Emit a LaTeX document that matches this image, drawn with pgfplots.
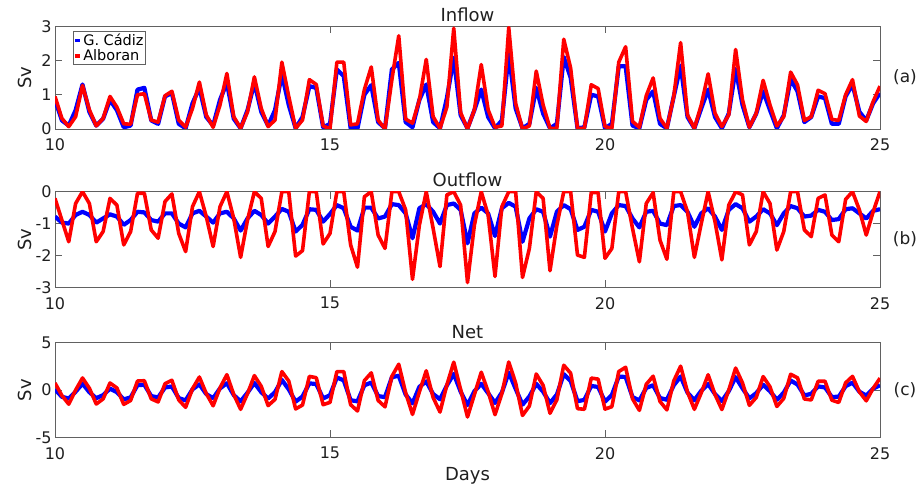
\documentclass[border=0pt]{standalone}
\usepackage{fontspec}
\setmainfont{DejaVu Sans}
\usepackage{pgfplots}
\usepackage{pgfplotstable}
\pgfplotsset{compat=1.18}
\pgfplotstableread{
t rin bin rout bout rnet bnet
10.000 0.95 0.85 -0.21 -0.78 0.74 0.07
10.125 0.31 0.25 -0.89 -0.97 -0.58 -0.72
10.250 0.07 0.10 -1.57 -1.00 -1.50 -0.90
10.375 0.36 0.55 -0.37 -0.73 -0.01 -0.18
10.500 1.27 1.30 0.00 -0.63 1.27 0.67
10.625 0.56 0.50 -0.37 -0.73 0.19 -0.23
10.750 0.09 0.10 -1.57 -0.97 -1.48 -0.87
10.875 0.31 0.30 -1.25 -0.84 -0.94 -0.54
11.000 0.95 0.85 -0.21 -0.71 0.74 0.14
11.125 0.64 0.55 -0.42 -0.78 0.22 -0.23
11.250 0.15 0.05 -1.67 -1.04 -1.52 -0.99
11.375 0.14 0.10 -1.25 -0.89 -1.11 -0.79
11.500 1.00 1.15 -0.05 -0.63 0.95 0.52
11.625 1.03 1.20 -0.05 -0.65 0.98 0.55
11.750 0.26 0.25 -1.20 -0.89 -0.94 -0.64
11.875 0.20 0.15 -1.46 -0.94 -1.26 -0.79
12.000 0.97 0.95 -0.31 -0.68 0.66 0.27
12.125 1.10 1.05 -0.07 -0.68 1.03 0.37
12.250 0.26 0.15 -1.31 -1.00 -1.05 -0.85
12.375 0.05 0.02 -1.88 -1.12 -1.83 -1.10
12.500 0.60 0.75 -0.47 -0.68 0.13 0.07
12.625 1.37 1.20 0.00 -0.60 1.37 0.60
12.750 0.41 0.35 -0.78 -0.78 -0.37 -0.43
12.875 0.05 0.10 -1.72 -0.97 -1.67 -0.87
13.000 0.70 0.85 -0.47 -0.68 0.23 0.17
13.125 1.62 1.35 0.00 -0.63 1.62 0.72
13.250 0.36 0.30 -0.84 -0.84 -0.48 -0.54
13.375 0.02 0.02 -2.06 -1.22 -2.04 -1.20
13.500 0.50 0.55 -0.89 -0.84 -0.39 -0.29
13.625 1.52 1.35 0.00 -0.60 1.52 0.75
13.750 0.60 0.50 -0.21 -0.73 0.39 -0.23
13.875 0.07 0.10 -1.72 -1.00 -1.65 -0.90
14.000 0.26 0.55 -1.25 -0.78 -0.99 -0.23
14.125 1.95 1.60 0.00 -0.54 1.95 1.06
14.250 0.95 0.70 0.00 -0.63 0.95 0.07
14.375 0.02 0.02 -2.02 -1.25 -2.00 -1.23
14.500 0.26 0.35 -1.85 -1.04 -1.59 -0.69
14.625 1.44 1.25 0.00 -0.55 1.44 0.70
14.750 1.30 1.20 0.00 -0.57 1.30 0.63
14.875 0.09 0.05 -1.64 -0.94 -1.55 -0.89
15.000 0.00 0.15 -1.31 -0.70 -1.31 -0.55
15.125 1.95 1.74 0.00 -0.42 1.95 1.32
15.250 1.95 1.54 0.00 -0.52 1.95 1.02
15.375 0.12 0.02 -1.67 -1.10 -1.55 -1.08
15.500 0.15 0.02 -2.37 -1.22 -2.22 -1.20
15.625 1.15 1.00 -0.16 -0.50 0.99 0.50
15.750 1.81 1.28 0.00 -0.50 1.81 0.78
15.875 0.26 0.20 -1.36 -0.84 -1.10 -0.64
16.000 0.00 0.02 -1.78 -0.78 -1.78 -0.76
16.125 1.44 1.74 0.00 -0.39 1.44 1.35
16.250 2.72 1.93 0.00 -0.42 2.72 1.51
16.375 0.29 0.20 -0.57 -0.68 -0.28 -0.48
16.500 0.17 0.05 -2.75 -1.46 -2.58 -1.41
16.625 0.85 0.85 -1.05 -0.52 -0.20 0.33
16.750 2.03 1.30 0.00 -0.39 2.03 0.91
16.875 0.36 0.20 -1.15 -0.63 -0.79 -0.43
17.000 0.02 0.02 -2.35 -1.00 -2.33 -0.98
17.125 0.64 0.90 -0.10 -0.42 0.54 0.48
17.250 2.94 2.08 0.00 -0.37 2.94 1.71
17.375 0.48 0.40 -0.42 -0.57 0.06 -0.17
17.500 0.00 0.02 -2.85 -1.62 -2.85 -1.60
17.625 0.56 0.55 -1.05 -0.68 -0.49 -0.13
17.750 1.88 1.15 0.00 -0.50 1.88 0.65
17.875 0.56 0.35 -0.73 -0.68 -0.17 -0.33
18.000 0.05 0.02 -2.66 -1.39 -2.61 -1.37
18.125 0.09 0.25 -0.47 -0.52 -0.38 -0.27
18.250 2.96 2.20 0.00 -0.35 2.96 1.85
18.375 0.75 0.60 0.00 -0.47 0.75 0.13
18.500 0.00 0.02 -2.69 -1.57 -2.69 -1.55
18.625 0.09 0.15 -1.78 -0.84 -1.69 -0.69
18.750 1.69 1.20 0.00 -0.55 1.69 0.65
18.875 0.70 0.45 -0.21 -0.63 0.49 -0.18
19.000 0.02 0.02 -2.48 -1.41 -2.46 -1.39
19.125 0.02 0.15 -1.05 -0.63 -1.03 -0.48
19.250 2.62 2.10 0.00 -0.42 2.62 1.68
19.375 1.78 1.50 0.00 -0.55 1.78 0.95
19.500 0.02 0.02 -1.99 -1.20 -1.97 -1.18
19.625 0.02 0.05 -2.06 -1.10 -2.04 -1.05
19.750 1.29 1.00 -0.03 -0.57 1.26 0.43
19.875 1.18 0.95 -0.03 -0.63 1.15 0.32
20.000 0.07 0.02 -2.09 -1.25 -2.02 -1.23
20.125 0.02 0.15 -1.78 -0.68 -1.76 -0.53
20.250 1.95 1.83 0.00 -0.42 1.95 1.41
20.375 2.40 1.83 0.00 -0.45 2.40 1.38
20.500 0.22 0.10 -1.15 -0.84 -0.93 -0.74
20.625 0.05 0.02 -2.20 -1.12 -2.15 -1.10
20.750 0.97 0.85 -0.37 -0.63 0.60 0.22
20.875 1.49 1.10 -0.03 -0.60 1.46 0.50
21.000 0.31 0.15 -1.52 -1.00 -1.21 -0.85
21.125 0.02 0.02 -2.12 -1.05 -2.10 -1.03
21.250 0.95 0.95 0.00 -0.45 0.95 0.50
21.375 2.52 1.85 0.00 -0.42 2.52 1.43
21.500 0.41 0.35 -0.63 -0.63 -0.22 -0.28
21.625 0.02 0.02 -2.06 -1.10 -2.04 -1.08
21.750 0.70 0.60 -1.00 -0.68 -0.30 -0.08
21.875 1.61 1.15 0.00 -0.52 1.61 0.63
22.000 0.46 0.35 -0.94 -0.78 -0.48 -0.43
22.125 0.07 0.02 -2.14 -1.20 -2.07 -1.18
22.250 0.41 0.45 -0.42 -0.57 -0.01 -0.12
22.375 2.32 1.75 0.00 -0.39 2.32 1.36
22.500 0.85 0.70 -0.10 -0.52 0.75 0.18
22.625 0.05 0.05 -1.67 -0.94 -1.62 -0.89
22.750 0.46 0.45 -1.25 -0.78 -0.79 -0.33
22.875 1.42 1.10 0.00 -0.55 1.42 0.55
23.000 0.70 0.55 -0.37 -0.68 0.33 -0.13
23.125 0.09 0.02 -1.83 -1.05 -1.74 -1.03
23.250 0.36 0.40 -1.25 -0.68 -0.89 -0.28
23.375 1.66 1.45 0.00 -0.45 1.66 1.00
23.500 1.29 1.10 0.00 -0.52 1.29 0.58
23.625 0.25 0.20 -1.20 -0.78 -0.95 -0.58
23.750 0.36 0.35 -1.41 -0.75 -1.05 -0.40
23.875 1.13 0.95 -0.21 -0.57 0.92 0.38
24.000 1.03 0.90 -0.10 -0.63 0.93 0.27
24.125 0.28 0.15 -1.36 -0.89 -1.08 -0.74
24.250 0.25 0.15 -1.57 -0.86 -1.32 -0.71
24.375 1.00 0.95 -0.24 -0.55 0.76 0.40
24.500 1.44 1.30 0.00 -0.52 1.44 0.78
24.625 0.38 0.50 -0.57 -0.68 -0.19 -0.18
24.750 0.22 0.25 -1.36 -0.84 -1.14 -0.59
24.875 0.80 0.75 -0.63 -0.60 0.17 0.15
25.000 1.25 1.05 0.00 -0.55 1.25 0.50
}\data
\definecolor{axgray}{gray}{0.38}
\definecolor{txt}{gray}{0.12}
\pgfplotsset{panel/.style={
  scale only axis, width=825bp, xmin=10, xmax=25, xtick={10,15,20,25},
  axis line style={axgray, line width=0.7bp},
  tick style={axgray, line width=0.7bp},
  major tick length=7bp, tick align=inside, xtick pos=both, ytick pos=both,
  xticklabel pos=bottom, yticklabel pos=left,
  ticklabel style={font=\fontsize{16bp}{19bp}\selectfont, text=txt},
  xticklabel style={yshift=-6.5bp},
  /pgf/number format/assume math mode=true,
  every axis title shift=0pt,
  title style={font=\fontsize{18bp}{21bp}\selectfont, text=txt, at={(0.5,1)}, anchor=base},
  ylabel style={font=\fontsize{18bp}{21bp}\selectfont, text=txt, at={(axis description cs:-0.037,0.5)}, anchor=center},
  xlabel style={font=\fontsize{18bp}{21bp}\selectfont, text=txt},
  every axis plot/.append style={line join=round, mark=none},
  clip mode=individual,
},
bl/.style={color=blue, line width=4.2bp},
rd/.style={color=red, line width=3.6bp}}
\begin{document}
\begin{tikzpicture}
\begin{axis}[panel, name=p1, at={(55bp,358bp)}, anchor=south west, height=102.8bp,
  ymin=0, ymax=3, ytick={0,1,2,3}, title={Inflow}, title style={yshift=4.4bp}, ylabel={Sv},
  legend style={at={(axis description cs:0.0215,0.951)}, anchor=north west, draw=axgray, line width=0.7bp, fill=white,
    font=\fontsize{14.5bp}{16bp}\selectfont, inner xsep=0bp, inner ysep=0.5bp, row sep=-1.5bp,
    /tikz/every odd column/.style={column sep=0bp},
    /tikz/every even column/.style={column sep=2bp}},
  legend cell align=left,
  legend image code/.code={\draw[#1,line width=3.5bp] (-1.2bp,0bp)--(3.5bp,0bp);}]
\addplot[bl] table[x=t,y=bin]{\data};
\addplot[rd] table[x=t,y=rin]{\data};
\legend{G. Cádiz, Alboran}
\end{axis}
\begin{axis}[panel, name=p2, at={(55bp,199.7bp)}, anchor=south west, height=95.6bp,
  ymin=-3, ymax=0, ytick={-3,-2,-1,0}, title={Outflow}, title style={yshift=5bp}, ylabel={Sv}]
\addplot[bl] table[x=t,y=bout]{\data};
\addplot[rd] table[x=t,y=rout]{\data};
\end{axis}
\begin{axis}[panel, name=p3, at={(55bp,49.7bp)}, anchor=south west, height=94.6bp,
  ymin=-5, ymax=5, ytick={-5,0,5}, title={Net}, title style={yshift=4.5bp}, ylabel={Sv},
  xlabel={Days}, xlabel style={at={(axis description cs:0.5,0)}, anchor=center, yshift=-38.5bp}]
\addplot[bl] table[x=t,y=bnet]{\data};
\addplot[rd] table[x=t,y=rnet]{\data};
\end{axis}
\node[font=\fontsize{17bp}{20bp}\selectfont, text=txt] at ([xshift=25bp]p1.east) {(a)};
\node[font=\fontsize{17bp}{20bp}\selectfont, text=txt] at ([xshift=25bp]p2.east) {(b)};
\node[font=\fontsize{17bp}{20bp}\selectfont, text=txt] at ([xshift=25bp]p3.east) {(c)};
\pgfresetboundingbox
\path (0bp,0bp) rectangle (921bp,487bp);
\end{tikzpicture}
\end{document}
